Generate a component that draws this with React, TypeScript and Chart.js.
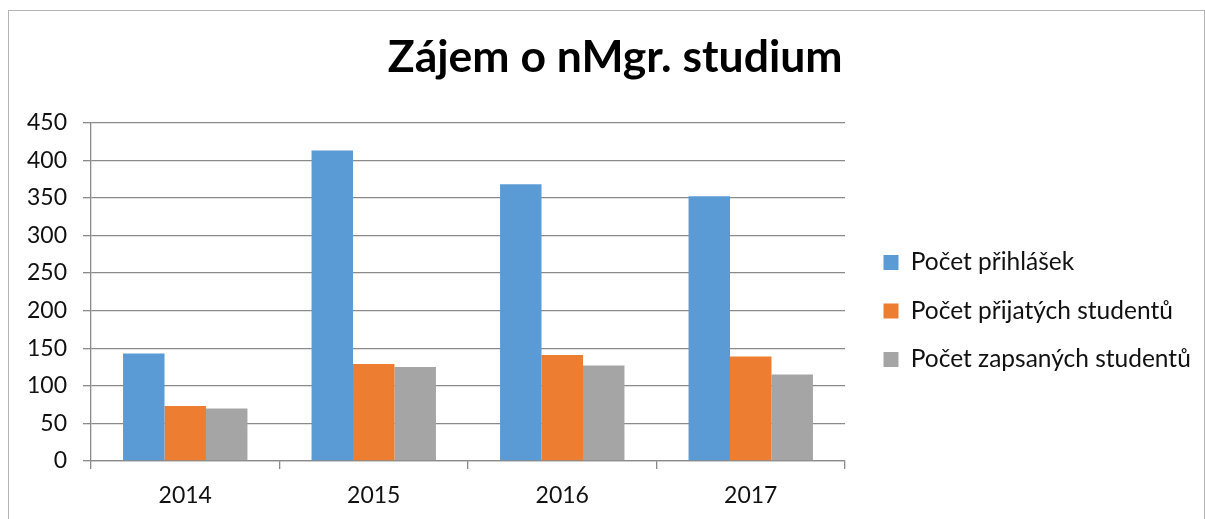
import { useEffect, useRef } from "react";
import { Chart, registerables } from "chart.js";

Chart.register(...registerables);

const chartTitle = "Zájem o nMgr. studium";
const categories = ["2014", "2015", "2016", "2017"];
const seriesNames = ["Počet přihlášek", "Počet přijatých studentů", "Počet zapsaných studentů"];
const prihlasky = [143, 413, 368, 352];
const prijati = [73, 129, 141, 139];
const zapsani = [70, 125, 127, 115];
const yMin = 0;
const yMax = 450;
const yStep = 50;

const seriesColors = ["#5B9BD5", "#ED7D31", "#A5A5A5"];

// Excel centres the title over the whole chart frame; nudge Chart.js's title box to match.
const titleOffsetPlugin = {
  id: "titleOffset",
  afterLayout(chart: any) {
    const t = chart.titleBlock;
    if (t) {
      t.left += 28;
    }
  },
};

export default function App() {
  const canvasRef = useRef<HTMLCanvasElement | null>(null);

  useEffect(() => {
    if (!canvasRef.current) return;
    const axisColor = "#8a8a8a";
    const textColor = "#111111";
    const tickFont = { family: "Lato", size: 23 };
    const legendFont = { family: "Lato", size: 24.5 };
    const chart = new Chart(canvasRef.current, {
      type: "bar",
      data: {
        labels: categories,
        datasets: [prihlasky, prijati, zapsani].map((vals, i) => ({
          label: seriesNames[i],
          data: vals,
          backgroundColor: seriesColors[i],
          borderWidth: 0,
          categoryPercentage: 0.66,
          barPercentage: 1.0,
        })),
      },
      plugins: [titleOffsetPlugin],
      options: {
        responsive: false,
        animation: false,
        devicePixelRatio: 1,
        layout: { padding: { left: 0, top: 0, bottom: 0, right: 10.5 } },
        plugins: {
          title: {
            display: true,
            text: chartTitle,
            color: "#000000",
            font: { family: "Lato", size: 44.5, weight: "bold", lineHeight: 1.2 },
            padding: { top: 20.1, bottom: 38.2 },
          },
          legend: {
            position: "right",
            align: "center",
            maxWidth: 334,
            labels: {
              boxWidth: 15,
              boxHeight: 15,
              padding: 24,
              color: textColor,
              font: legendFont,
            },
          },
          tooltip: { enabled: false },
        },
        scales: {
          x: {
            grid: {
              display: true,
              drawOnChartArea: false,
              drawTicks: true,
              tickLength: 8,
              color: axisColor,
              lineWidth: 1.3,
              offset: true,
            },
            border: { display: true, color: axisColor, width: 1.3 },
            ticks: { padding: 13, color: textColor, font: tickFont },
            afterFit: (s: any) => {
              s.height = 150;
            },
          },
          y: {
            min: yMin,
            max: yMax,
            ticks: { stepSize: yStep, padding: 16, color: textColor, font: tickFont },
            grid: { color: axisColor, lineWidth: 1.3, tickLength: 8, drawTicks: true },
            border: { display: true, color: axisColor, width: 1.3 },
            afterFit: (s: any) => {
              s.width = 82;
            },
          },
          yRight: {
            type: "linear",
            position: "right",
            display: true,
            grid: { display: false, drawTicks: false },
            ticks: { display: false },
            border: { display: false },
            afterFit: (s: any) => {
              s.width = 14.5;
            },
          },
        },
      } as any,
    });
    return () => chart.destroy();
  }, []);

  return (
    <div
      style={{
        position: "absolute",
        left: 8,
        top: 10,
        width: 1195,
        height: 508,
        borderLeft: "1px solid #b4b4b4",
        borderTop: "1px solid #b4b4b4",
        borderRight: "1px solid #b4b4b4",
        overflow: "hidden",
        background: "#ffffff",
      }}
    >
      <canvas ref={canvasRef} width={1195} height={600} style={{ display: "block" }} />
    </div>
  );
}
